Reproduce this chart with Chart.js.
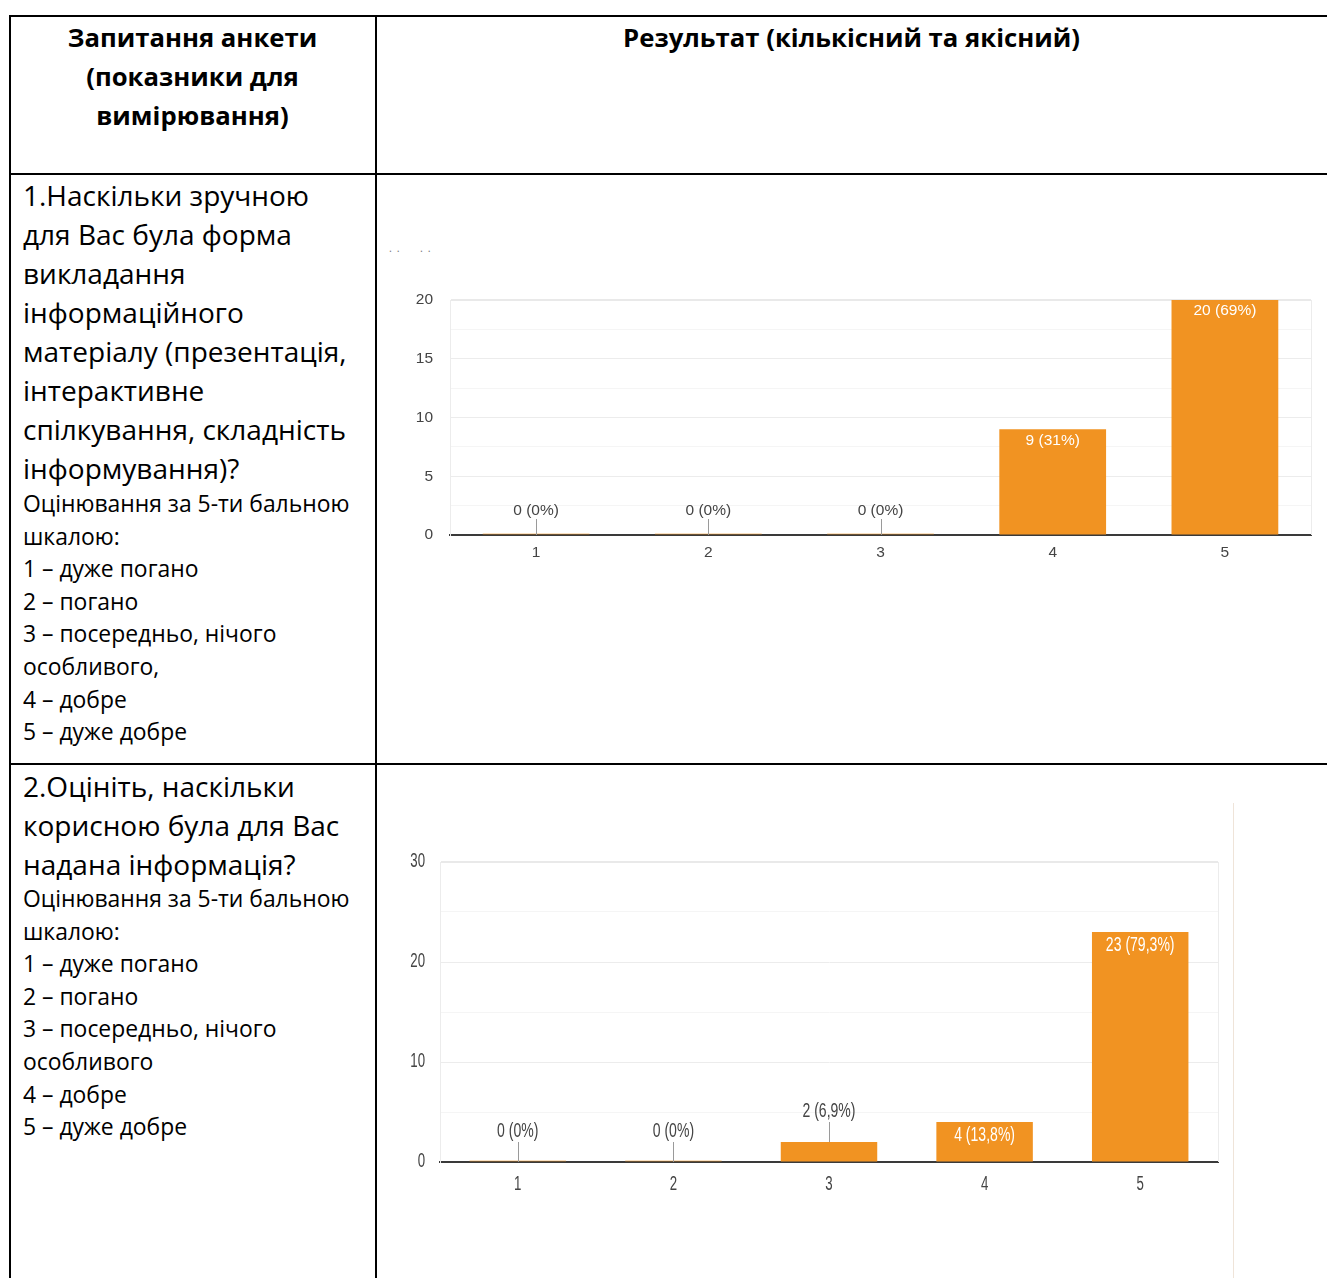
<!DOCTYPE html>
<html lang="uk">
<head>
<meta charset="utf-8">
<title>Результати анкетування</title>
<script src="https://cdn.jsdelivr.net/npm/chart.js@4.4.1/dist/chart.umd.min.js"></script>
<style>
  html, body { margin: 0; padding: 0; background: #fff; }
  body { width: 1327px; height: 1278px; position: relative; overflow: hidden; font-family: "Open Sans", "Noto Sans", sans-serif; color: #000; }
  .rule { position: absolute; background: #000; }
  .txt { position: absolute; white-space: nowrap; }
  .head { font-weight: 700; font-size: 25.7px; line-height: 39px; text-align: center; }
  .big { font-size: 28px; line-height: 39px; left: 23px; }
  .small { font-size: 22.9px; line-height: 32.6px; left: 23px; }
  canvas { position: absolute; }
</style>
</head>
<body>
<!-- table frame -->
<div class="rule" style="left:9px; top:15px; width:1318px; height:2px;"></div>
<div class="rule" style="left:9px; top:173px; width:1318px; height:2px;"></div>
<div class="rule" style="left:9px; top:763px; width:1318px; height:2px;"></div>
<div class="rule" style="left:9px; top:15px; width:2px; height:1263px;"></div>
<div class="rule" style="left:375px; top:15px; width:2px; height:1263px;"></div>

<div class="txt head" style="left:9px; width:367px; top:18px;">Запитання анкети<br>(показники для<br>вимірювання)</div>
<div class="txt head" style="left:376px; width:951px; top:18px;">Результат (кількісний та якісний)</div>

<div class="txt big" style="top:176px;">1.Наскільки зручною<br>для Вас була форма<br>викладання<br>інформаційного<br>матеріалу (презентація,<br>інтерактивне<br>спілкування, складність<br>інформування)?</div>
<div class="txt small" style="top:488px;">Оцінювання за 5-ти бальною<br>шкалою:<br>1 – дуже погано<br>2 – погано<br>3 – посередньо, нічого<br>особливого,<br>4 – добре<br>5 – дуже добре</div>

<div class="txt big" style="top:767px;">2.Оцініть, наскільки<br>корисною була для Вас<br>надана інформація?</div>
<div class="txt small" style="top:883px;">Оцінювання за 5-ти бальною<br>шкалою:<br>1 – дуже погано<br>2 – погано<br>3 – посередньо, нічого<br>особливого<br>4 – добре<br>5 – дуже добре</div>

<div class="txt" style="left:389px; top:240px; font-size:11px; color:#777; letter-spacing:1px;">. .&nbsp;&nbsp;&nbsp;&nbsp;&nbsp;. .</div>
<div style="position:absolute; left:1233px; top:803px; width:1px; height:475px; background:#efe4d9;"></div>

<canvas id="chart1" width="947" height="300" style="left:380px; top:270px; width:947px; height:300px;"></canvas>
<canvas id="chart2" width="947" height="420" style="left:380px; top:800px; width:947px; height:420px;"></canvas>

<script>
// Rating scale categories
const categories = ['1', '2', '3', '4', '5'];

// Question 1: convenience of the presentation format
const q1Counts = [0, 0, 0, 9, 20];
const q1Percents = ['0%', '0%', '0%', '31%', '69%'];
const q1Max = 20;

// Question 2: usefulness of the information
const q2Counts = [0, 0, 2, 4, 23];
const q2Percents = ['0%', '0%', '6,9%', '13,8%', '79,3%'];
const q2Max = 30;

const barColor = '#f19322';
const zeroBarColor = 'rgba(241,147,34,0.28)';
const sansFamily = "'Liberation Sans', Arial, sans-serif";

// Text drawn with an optional horizontal squeeze (condensed look)
function squeezedText(ctx, text, x, y, align, sx) {
  ctx.save();
  ctx.translate(x, y);
  ctx.scale(sx, 1);
  ctx.textAlign = align;
  ctx.fillText(text, 0, 0);
  ctx.restore();
}

// Draws "count (percent)" over each bar; short bars get a label above with a leader line
function valueLabels(percents, cfg) {
  return {
    id: 'valueLabels',
    afterDatasetsDraw(chart) {
      const ctx = chart.ctx;
      const meta = chart.getDatasetMeta(0);
      const data = chart.data.datasets[0].data;
      const base = chart.scales.y.getPixelForValue(0);
      ctx.save();
      ctx.font = cfg.font;
      ctx.textBaseline = 'middle';
      meta.data.forEach((bar, i) => {
        const v = data[i];
        const text = v + ' (' + percents[i] + ')';
        const h = base - bar.y;
        if (v === 0) {
          ctx.fillStyle = zeroBarColor;
          ctx.fillRect(bar.x - bar.width / 2, base - 2, bar.width, 2);
        }
        if (h >= 30) {
          ctx.fillStyle = '#fff';
          squeezedText(ctx, text, bar.x, bar.y + cfg.inside, 'center', cfg.sx);
        } else {
          ctx.strokeStyle = '#9a9a9a';
          ctx.lineWidth = 1;
          ctx.beginPath();
          ctx.moveTo(Math.round(bar.x) + 0.5, bar.y - cfg.leader);
          ctx.lineTo(Math.round(bar.x) + 0.5, bar.y);
          ctx.stroke();
          ctx.fillStyle = '#444';
          squeezedText(ctx, text, bar.x, bar.y - cfg.above, 'center', cfg.sx);
        }
      });
      ctx.restore();
    }
  };
}

// Condensed axis labels, placed from the scales' own ticks
function squeezedTicks(cfg) {
  return {
    id: 'squeezedTicks',
    afterDraw(chart) {
      const ctx = chart.ctx;
      const xs = chart.scales.x, ys = chart.scales.y;
      const a = chart.chartArea;
      ctx.save();
      ctx.font = cfg.font;
      ctx.fillStyle = '#444';
      ctx.textBaseline = 'middle';
      ys.ticks.forEach(t => {
        if (t.label === '') return;
        squeezedText(ctx, t.label, a.left - cfg.yGap, ys.getPixelForValue(t.value), 'right', cfg.sx);
      });
      xs.ticks.forEach((t, i) => {
        squeezedText(ctx, String(t.label), xs.getPixelForTick(i), a.bottom + cfg.xGap, 'center', cfg.sx);
      });
      ctx.restore();
    }
  };
}

// Light frame on the right edge of the plot area
const plotFrame = {
  id: 'plotFrame',
  beforeDatasetsDraw(chart) {
    const a = chart.chartArea;
    const ctx = chart.ctx;
    ctx.save();
    ctx.strokeStyle = '#ececec';
    ctx.lineWidth = 1;
    ctx.beginPath();
    ctx.moveTo(a.right + 0.5, a.top);
    ctx.lineTo(a.right + 0.5, a.bottom);
    ctx.stroke();
    ctx.restore();
  }
};

function makeChart(id, counts, percents, max, o) {
  const font = { family: sansFamily, size: o.size };
  const tickColor = o.customTicks ? 'rgba(0,0,0,0)' : '#444';
  const plugins = [plotFrame, valueLabels(percents, o.labels)];
  if (o.customTicks) plugins.push(squeezedTicks(o.customTicks));
  return new Chart(document.getElementById(id), {
    type: 'bar',
    data: {
      labels: categories,
      datasets: [{
        data: counts,
        backgroundColor: barColor,
        borderWidth: 0,
        categoryPercentage: 1,
        barPercentage: 0.62
      }]
    },
    options: {
      responsive: false,
      animation: false,
      events: [],
      layout: { padding: { left: 0, right: o.padRight, top: o.padTop, bottom: 0 } },
      plugins: { legend: { display: false }, tooltip: { enabled: false } },
      scales: {
        x: {
          grid: { display: false, drawTicks: false },
          border: { display: true, color: '#3a3a3a', width: 2 },
          ticks: { color: tickColor, font: font, padding: o.xPad, maxRotation: 0 },
          afterFit(s) { s.height = o.xHeight; }
        },
        y: {
          min: 0,
          max: max,
          grid: {
            drawTicks: false,
            color(c) {
              const v = c.tick.value;
              if (v === 0) return 'rgba(0,0,0,0)';
              if (v === max) return '#e9e9e9';
              return (v % o.major === 0) ? '#ececec' : '#f5f5f5';
            },
            lineWidth(c) { return c.tick.value === max ? 2 : 1; }
          },
          border: { display: true, color: '#ececec', width: 1 },
          ticks: {
            stepSize: o.step,
            color: tickColor,
            font: font,
            padding: o.yPad,
            callback(v) { return (v % o.major === 0) ? String(v) : ''; }
          },
          afterFit(s) { s.width = o.yWidth; }
        }
      }
    },
    plugins: plugins
  });
}

makeChart('chart1', q1Counts, q1Percents, q1Max, {
  size: 15.5,
  padRight: 16, padTop: 30, xHeight: 35, yWidth: 70, xPad: 8, yPad: 17,
  step: 2.5, major: 5,
  labels: { font: "15.5px " + sansFamily, inside: 11, above: 24, leader: 16, sx: 1 }
});

makeChart('chart2', q2Counts, q2Percents, q2Max, {
  size: 16,
  padRight: 109, padTop: 62, xHeight: 58, yWidth: 60, xPad: 12, yPad: 15,
  step: 5, major: 10,
  labels: { font: "19.5px " + sansFamily, inside: 14, above: 30, leader: 20, sx: 0.72 },
  customTicks: { font: "19.5px " + sansFamily, sx: 0.68, yGap: 15, xGap: 23 }
});
</script>
</body>
</html>
